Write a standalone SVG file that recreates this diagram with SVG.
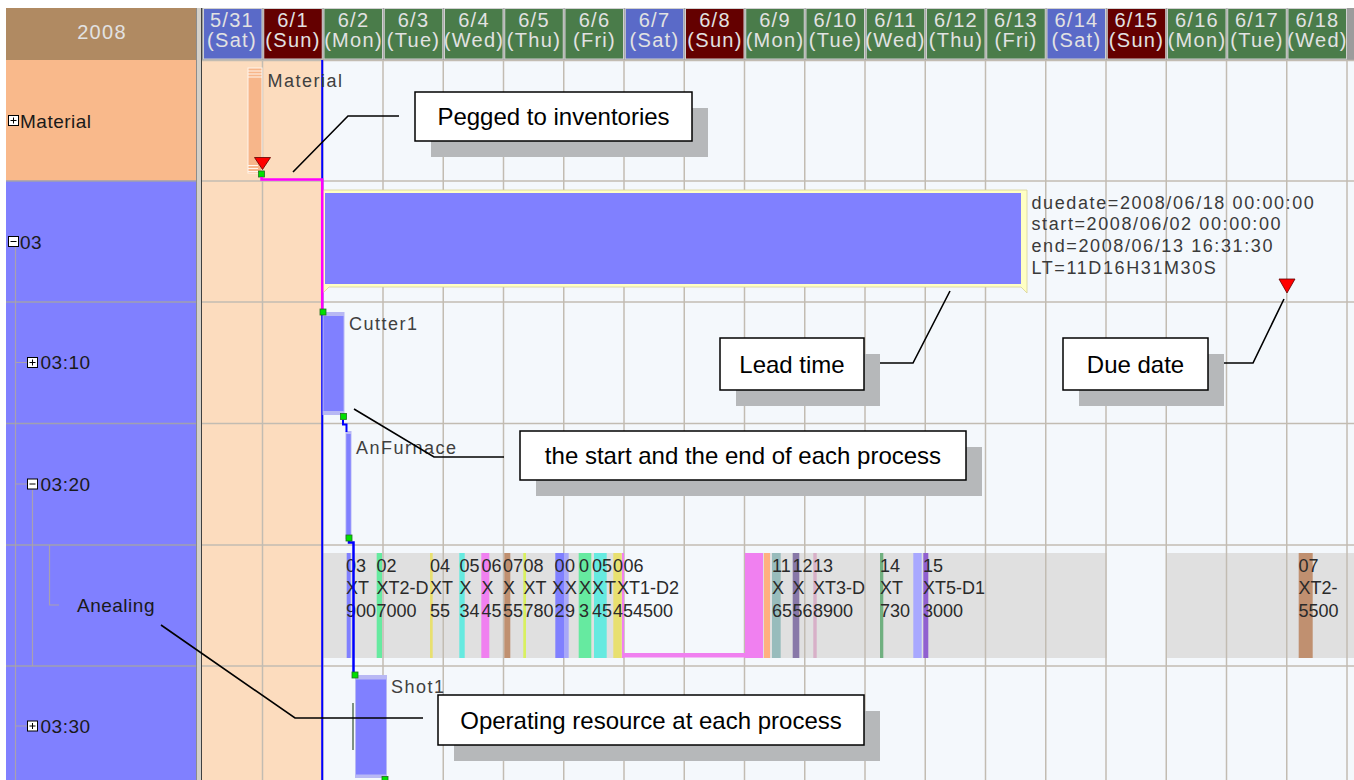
<svg xmlns="http://www.w3.org/2000/svg" width="1354" height="780" viewBox="0 0 1354 780">
<defs>
<style>
.hd{font-family:"Liberation Sans",Arial,sans-serif;font-size:20px;fill:#e2e2e2;letter-spacing:1.3px;text-anchor:middle}
.sat{fill:#5a6ac8}
.sun{fill:#640000}
.wk{fill:#4a7c4a}
.day{stroke:#d0d0d0;stroke-width:1}
.tl{font-family:"Liberation Sans",Arial,sans-serif;font-size:19px;fill:#1a1a1a;letter-spacing:0.5px}
.bl{font-family:"Liberation Sans",Arial,sans-serif;font-size:18px;fill:#404040;letter-spacing:1.5px}
.info{font-family:"Liberation Sans",Arial,sans-serif;font-size:18px;fill:#3a3a3a;letter-spacing:1.6px}
.it{font-family:"Liberation Sans",Arial,sans-serif;font-size:18px;fill:#2a2a2a}
.grid{stroke:#c2bcb2;stroke-width:1.5;fill:none}
.tree{stroke:#a8a0b0;stroke-width:1.2;fill:none}
.rowsep{stroke:#a0a0b0;stroke-width:1.5}
.note{fill:#fff;stroke:#000;stroke-width:1.5}
.shadow{fill:#b6b8ba}
.nt{font-family:"Liberation Sans",Arial,sans-serif;font-size:24px;fill:#000;text-anchor:middle}
.lead{stroke:#000;stroke-width:1.6;fill:none}
.ok{fill:#00e000;stroke:#207020;stroke-width:0.8}
.due{fill:#ff0000;stroke:#600000;stroke-width:0.8}
.ico{fill:#fff;stroke:#000;stroke-width:1}
.op{fill:#8080ff}
.opedge{fill:#b8b8f4}
</style>
</defs>

<rect width="1354" height="780" fill="#ffffff"/>

<!-- calendar header -->
<g id="header">
  <rect x="6" y="8" width="190" height="52" fill="#b08a62"/>
  <text class="hd" x="102" y="39">2008</text>
  <rect x="202" y="8" width="1152" height="52" fill="#9c9c9c"/>
  <g class="day">
    <rect class="sat" x="203.5" y="8.5" width="58.5" height="50.5"/>
    <rect class="sun" x="263.75" y="8.5" width="58.5" height="50.5"/>
    <rect class="wk" x="324" y="8.5" width="58.5" height="50.5"/>
    <rect class="wk" x="384.25" y="8.5" width="58.5" height="50.5"/>
    <rect class="wk" x="444.5" y="8.5" width="58.5" height="50.5"/>
    <rect class="wk" x="504.75" y="8.5" width="58.5" height="50.5"/>
    <rect class="wk" x="565" y="8.5" width="58.5" height="50.5"/>
    <rect class="sat" x="625.25" y="8.5" width="58.5" height="50.5"/>
    <rect class="sun" x="685.5" y="8.5" width="58.5" height="50.5"/>
    <rect class="wk" x="745.75" y="8.5" width="58.5" height="50.5"/>
    <rect class="wk" x="806" y="8.5" width="58.5" height="50.5"/>
    <rect class="wk" x="866.25" y="8.5" width="58.5" height="50.5"/>
    <rect class="wk" x="926.5" y="8.5" width="58.5" height="50.5"/>
    <rect class="wk" x="986.75" y="8.5" width="58.5" height="50.5"/>
    <rect class="sat" x="1047" y="8.5" width="58.5" height="50.5"/>
    <rect class="sun" x="1107.25" y="8.5" width="58.5" height="50.5"/>
    <rect class="wk" x="1167.5" y="8.5" width="58.5" height="50.5"/>
    <rect class="wk" x="1227.75" y="8.5" width="58.5" height="50.5"/>
    <rect class="wk" x="1288" y="8.5" width="58.5" height="50.5"/>
  </g>
  <g class="hd">
    <text x="232" y="27">5/31</text><text x="232" y="47">(Sat)</text>
    <text x="293" y="27">6/1</text><text x="293" y="47">(Sun)</text>
    <text x="353.5" y="27">6/2</text><text x="353.5" y="47">(Mon)</text>
    <text x="413.5" y="27">6/3</text><text x="413.5" y="47">(Tue)</text>
    <text x="474" y="27">6/4</text><text x="474" y="47">(Wed)</text>
    <text x="534" y="27">6/5</text><text x="534" y="47">(Thu)</text>
    <text x="594.5" y="27">6/6</text><text x="594.5" y="47">(Fri)</text>
    <text x="654.5" y="27">6/7</text><text x="654.5" y="47">(Sat)</text>
    <text x="715" y="27">6/8</text><text x="715" y="47">(Sun)</text>
    <text x="775" y="27">6/9</text><text x="775" y="47">(Mon)</text>
    <text x="835.5" y="27">6/10</text><text x="835.5" y="47">(Tue)</text>
    <text x="895.5" y="27">6/11</text><text x="895.5" y="47">(Wed)</text>
    <text x="956" y="27">6/12</text><text x="956" y="47">(Thu)</text>
    <text x="1016" y="27">6/13</text><text x="1016" y="47">(Fri)</text>
    <text x="1076.5" y="27">6/14</text><text x="1076.5" y="47">(Sat)</text>
    <text x="1136.5" y="27">6/15</text><text x="1136.5" y="47">(Sun)</text>
    <text x="1197" y="27">6/16</text><text x="1197" y="47">(Mon)</text>
    <text x="1257" y="27">6/17</text><text x="1257" y="47">(Tue)</text>
    <text x="1317.5" y="27">6/18</text><text x="1317.5" y="47">(Wed)</text>
  </g>
</g>

<!-- tree panel -->
<g id="tree">
  <g id="row-material">
    <rect x="6" y="60" width="190" height="121" fill="#f9b98b"/>
    <rect class="ico" x="8.5" y="115.5" width="10" height="10"/>
    <path d="M10.5,120.5H16.5M13.5,117.5V123.5" stroke="#000" stroke-width="1"/>
    <text class="tl" x="20" y="127.5">Material</text>
  </g>
  <g id="row-03">
    <rect x="6" y="181" width="190" height="121" fill="#8080ff"/>
    <rect class="ico" x="8.5" y="236.5" width="10" height="10"/>
    <path d="M10.5,241.5H16.5" stroke="#000" stroke-width="1"/>
    <text class="tl" x="20" y="248.5">03</text>
  </g>
  <g id="row-0310">
    <rect x="6" y="302" width="190" height="121.5" fill="#8080ff"/>
    <text class="tl" x="40.5" y="369">03:10</text>
  </g>
  <g id="row-0320">
    <rect x="6" y="423.5" width="190" height="121.5" fill="#8080ff"/>
    <text class="tl" x="40.5" y="490.5">03:20</text>
  </g>
  <g id="row-anealing">
    <rect x="6" y="545" width="190" height="121" fill="#8080ff"/>
    <text class="tl" x="77" y="612" fill="#202040">Anealing</text>
  </g>
  <g id="row-0330">
    <rect x="6" y="666" width="190" height="114" fill="#8080ff"/>
    <text class="tl" x="40.5" y="732.5">03:30</text>
  </g>
  <g class="rowsep">
    <path d="M6,181H196M6,302H196M6,423.5H196M6,545H196M6,666H196"/>
  </g>
  <path class="tree" d="M15.5,247V780M15.5,362.5H27.5M15.5,484H27.5M15.5,726H27.5M32.5,490V666M49.5,545V605H59"/>
  <rect class="ico" x="27.5" y="357.5" width="10" height="10"/>
  <path d="M29.5,362.5H35.5M32.5,359.5V365.5" stroke="#000" stroke-width="1"/>
  <rect class="ico" x="27.5" y="479" width="10" height="10"/>
  <path d="M29.5,484H35.5" stroke="#000" stroke-width="1"/>
  <rect class="ico" x="27.5" y="721" width="10" height="10"/>
  <path d="M29.5,726H35.5M32.5,723V729" stroke="#000" stroke-width="1"/>
</g>

<!-- splitter -->
<rect x="196" y="8" width="6" height="772" fill="#d4d0c8"/>
<path d="M196.5,8V780" stroke="#8c8c8c" stroke-width="1"/>
<path d="M201.5,8V780" stroke="#404040" stroke-width="1"/>

<!-- chart body -->
<g id="chart">
  <rect x="202" y="60" width="1152" height="720" fill="#f4f8fc"/>
  <rect x="202" y="60" width="120" height="720" fill="#fcdcbe"/>
  <!-- anealing calendar band -->
  <g fill="#e0e0e0">
    <rect x="323" y="553" width="299" height="105"/>
    <rect x="763" y="553" width="343.75" height="105"/>
    <rect x="1167" y="553" width="187" height="105"/>
  </g>
  <path class="grid" d="M202,60.5H1354M262.5,60V780M322.75,60V780M383,60V780M443.25,60V780M503.5,60V780M563.75,60V780M624,60V780M684.25,60V780M744.5,60V780M804.75,60V780M865,60V780M925.25,60V780M985.5,60V780M1045.75,60V780M1106,60V780M1166.25,60V780M1226.5,60V780M1286.75,60V780M1347,60V780"/>
  <path class="grid" d="M202,181H1354M202,302H1354M202,423.5H1354M202,545H1354M202,666H1354"/>
  <!-- current date line -->
  <path d="M322.2,60V780" stroke="#0000ff" stroke-width="2"/>
</g>

<!-- material row -->
<g id="material">
  <rect x="248" y="68" width="14" height="105" fill="#f7b68a" stroke="#fff4ea" stroke-width="1"/>
  <path d="M248,71H262M248,74H262M248,77H262M248,165.5H258M248,168.5H258M248,171.5H258" stroke="#fff6ee" stroke-width="1"/>
  <polygon class="due" points="254.5,157.5 270.5,157.5 262.5,169.5"/>
  <rect class="ok" x="258.5" y="171" width="6" height="6"/>
  <text class="bl" x="267.5" y="87">Material</text>
</g>

<!-- order 03 lead time bar -->
<g id="order-03">
  <path d="M323,190H1027V293L1021,287H329L323,293Z" fill="#ffffc4" stroke="#d8d098" stroke-width="0.8"/>
  <rect class="op" x="325" y="193" width="696" height="91"/>
  <text class="info" x="1031.5" y="208.5">duedate=2008/06/18 00:00:00</text>
  <text class="info" x="1031.5" y="230">start=2008/06/02 00:00:00</text>
  <text class="info" x="1031.5" y="252">end=2008/06/13 16:31:30</text>
  <text class="info" x="1031.5" y="273.5">LT=11D16H31M30S</text>
  <polygon class="due" points="1279,279 1295,279 1287,293"/>
</g>

<!-- process 03:10 -->
<g id="op-cutter1">
  <rect class="opedge" x="322.5" y="312" width="22" height="103"/>
  <rect class="op" x="323.5" y="316" width="20" height="95"/>
  <text class="bl" x="349" y="330">Cutter1</text>
</g>

<!-- process 03:20 -->
<g id="op-anfurnace">
  <rect class="opedge" x="345.5" y="431" width="6" height="108"/>
  <rect class="op" x="346.3" y="434" width="4.4" height="102"/>
  <text class="bl" x="356" y="454">AnFurnace</text>
</g>

<!-- anealing resource loading -->
<g id="anealing">
  <rect x="346.7" y="553" width="4" height="105" fill="#8080ff"/>
  <rect x="376.7" y="553" width="5.3" height="105" fill="#66eaa0"/>
  <rect x="430" y="553" width="2.7" height="105" fill="#e8e070"/>
  <rect x="459.3" y="553" width="5.4" height="105" fill="#66eae0"/>
  <rect x="481.3" y="553" width="8" height="105" fill="#f080f0"/>
  <rect x="504.3" y="553" width="6" height="105" fill="#c09070"/>
  <rect x="523.3" y="553" width="2.7" height="105" fill="#d8f060"/>
  <rect x="555.3" y="553" width="8.7" height="105" fill="#8080ff"/>
  <rect x="564" y="553" width="4.7" height="105" fill="#a8a8f8"/>
  <rect x="578.7" y="553" width="12.6" height="105" fill="#66eaa0"/>
  <rect x="594" y="553" width="12.7" height="105" fill="#66eae0"/>
  <rect x="613.3" y="553" width="8.4" height="105" fill="#e8e070"/>
  <rect x="622" y="553" width="2" height="105" fill="#f080f0"/>
  <rect x="622" y="653" width="123" height="4.5" fill="#f080f0"/>
  <rect x="745" y="553" width="18" height="105" fill="#f080f0"/>
  <rect x="764" y="553" width="6" height="105" fill="#ffb080"/>
  <rect x="772" y="553" width="8.7" height="105" fill="#98bcbc"/>
  <rect x="792.7" y="553" width="6.6" height="105" fill="#8878a8"/>
  <rect x="813.3" y="553" width="3.4" height="105" fill="#d8b0c8"/>
  <rect x="880" y="553" width="3.3" height="105" fill="#70b080"/>
  <rect x="913.3" y="553" width="8.4" height="105" fill="#a8a8ff"/>
  <rect x="923.3" y="553" width="5" height="105" fill="#9060d0"/>
  <rect x="1298.7" y="553" width="14" height="105" fill="#c09070"/>

  <!-- order labels, each cut short where the next one begins -->
  <g class="it">
    <text><tspan x="346" y="571.5">03</tspan><tspan x="346" y="594">XT</tspan><tspan x="346" y="616.5">900</tspan></text>
    <text><tspan x="376.5" y="571.5">02</tspan><tspan x="376.5" y="594">XT2-D</tspan><tspan x="376.5" y="616.5">7000</tspan></text>
    <text><tspan x="430" y="571.5">04</tspan><tspan x="430" y="594">XT</tspan><tspan x="430" y="616.5">55</tspan></text>
    <text><tspan x="459.5" y="571.5">05</tspan><tspan x="459.5" y="594">X</tspan><tspan x="459.5" y="616.5">34</tspan></text>
    <text><tspan x="481.5" y="571.5">06</tspan><tspan x="481.5" y="594">X</tspan><tspan x="481.5" y="616.5">45</tspan></text>
    <text><tspan x="503" y="571.5">07</tspan><tspan x="503" y="594">X</tspan><tspan x="503" y="616.5">55</tspan></text>
    <text><tspan x="523.5" y="571.5">08</tspan><tspan x="523.5" y="594">XT</tspan><tspan x="523.5" y="616.5">780</tspan></text>
    <text><tspan x="554.5" y="571.5">0</tspan><tspan x="552" y="594">X</tspan><tspan x="554.5" y="616.5">2</tspan></text>
    <text><tspan x="565" y="571.5">0</tspan><tspan x="565" y="594">X</tspan><tspan x="565" y="616.5">9</tspan></text>
    <text><tspan x="579" y="571.5">0</tspan><tspan x="579" y="594">X</tspan><tspan x="579" y="616.5">3</tspan></text>
    <text><tspan x="592" y="571.5">05</tspan><tspan x="592" y="594">X</tspan><tspan x="592" y="616.5">45</tspan></text>
    <text><tspan x="613" y="571.5">0</tspan><tspan x="605" y="594">T</tspan></text>
    <text><tspan x="623.5" y="571.5">06</tspan><tspan x="617" y="594">XT1-D2</tspan><tspan x="613" y="616.5">454500</tspan></text>
    <text><tspan x="772" y="571.5">11</tspan><tspan x="772" y="594">X</tspan><tspan x="772" y="616.5">65</tspan></text>
    <text><tspan x="792.5" y="571.5">12</tspan><tspan x="792.5" y="594">X</tspan><tspan x="792.5" y="616.5">56</tspan></text>
    <text><tspan x="813" y="571.5">13</tspan><tspan x="813" y="594">XT3-D</tspan><tspan x="813" y="616.5">8900</tspan></text>
    <text><tspan x="880" y="571.5">14</tspan><tspan x="880" y="594">XT</tspan><tspan x="880" y="616.5">730</tspan></text>
    <text><tspan x="923" y="571.5">15</tspan><tspan x="923" y="594">XT5-D1</tspan><tspan x="923" y="616.5">3000</tspan></text>
    <text><tspan x="1298.5" y="571.5">07</tspan><tspan x="1298.5" y="594">XT2-</tspan><tspan x="1298.5" y="616.5">5500</tspan></text>
  </g>
</g>

<!-- process 03:30 -->
<g id="op-shot1">
  <path d="M353,703V750" stroke="#305030" stroke-width="1.2"/>
  <rect class="opedge" x="355" y="675" width="32" height="103"/>
  <rect class="op" x="356" y="679.5" width="30" height="95"/>
  <text class="bl" x="391" y="693">Shot1</text>
</g>

<!-- pegging and process links -->
<g id="connectors" fill="none">
  <path d="M261.5,177V179.5H322.2V311" stroke="#ff00ff" stroke-width="2.5"/>
  <path d="M343,420V424.5H346.5V432" stroke="#0000ff" stroke-width="2"/>
  <path d="M349,538V542.5H353.5V673" stroke="#0000ff" stroke-width="2.5"/>
  <rect class="ok" x="320" y="309" width="6" height="6"/>
  <rect class="ok" x="340.5" y="413.5" width="6" height="6"/>
  <rect class="ok" x="346" y="535" width="6" height="6"/>
  <rect class="ok" x="352" y="672" width="6" height="6"/>
  <rect class="ok" x="382" y="776.5" width="6" height="6"/>
</g>

<!-- callouts -->
<g id="note-pegged">
  <rect class="shadow" x="431" y="108" width="277" height="49"/>
  <rect class="note" x="415" y="92" width="277" height="49"/>
  <text class="nt" x="553.5" y="124.5">Pegged to inventories</text>
  <polyline class="lead" points="399,116 348,116 293,172"/>
</g>
<g id="note-leadtime">
  <rect class="shadow" x="736" y="354" width="144" height="52"/>
  <rect class="note" x="720" y="338" width="144" height="52"/>
  <text class="nt" x="792" y="372.5">Lead time</text>
  <polyline class="lead" points="880,363 913,363 950,291"/>
</g>
<g id="note-duedate">
  <rect class="shadow" x="1079" y="354" width="145" height="52"/>
  <rect class="note" x="1063" y="338" width="145" height="52"/>
  <text class="nt" x="1135.5" y="372.5">Due date</text>
  <polyline class="lead" points="1224,363 1253,363 1284,299"/>
</g>
<g id="note-startend">
  <rect class="shadow" x="536" y="447" width="446" height="49"/>
  <rect class="note" x="520" y="431" width="446" height="49"/>
  <text class="nt" x="743" y="463.5">the start and the end of each process</text>
  <polyline class="lead" points="354,409 434,457 504,457"/>
</g>
<g id="note-resource">
  <rect class="shadow" x="454" y="711" width="426" height="50"/>
  <rect class="note" x="438" y="695" width="426" height="50"/>
  <text class="nt" x="651" y="728.5">Operating resource at each process</text>
  <polyline class="lead" points="161,625 295,718 423,718"/>
</g>
</svg>
